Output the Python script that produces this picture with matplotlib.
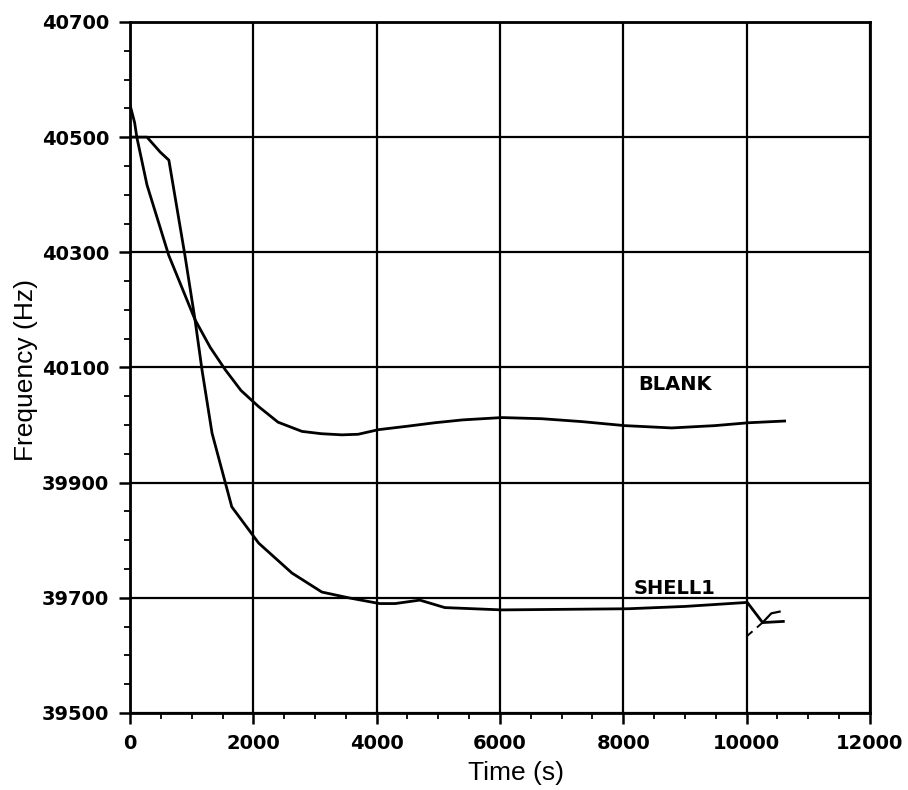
import matplotlib
matplotlib.use("Agg")
import matplotlib.pyplot as plt
from matplotlib.ticker import MultipleLocator

# ---- data ----
blank_t = [0, 75, 110, 275, 627, 1054, 1300, 1545, 1800, 2086, 2400, 2788, 3100,
           3436, 3700, 4030, 4500, 4943, 5400, 6030, 6677, 7325, 8022, 8784,
           9482, 10032, 10616]
blank_f = [40556, 40525, 40500, 40417, 40295, 40183, 40135, 40096, 40060, 40032,
           40005, 39989, 39985, 39983, 39984, 39992, 39998, 40004, 40009, 40013,
           40011, 40006, 39999, 39995, 39999, 40004, 40007]

shell_t = [0, 275, 490, 630, 890, 1054, 1167, 1330, 1650, 2086, 2626, 3111, 3545,
           4047, 4300, 4700, 5105, 6030, 8082, 8995, 10011, 10259, 10595]
shell_f = [40500, 40500, 40474, 40460, 40295, 40183, 40096, 39986, 39858, 39795,
           39743, 39710, 39700, 39690, 39690, 39696, 39683, 39679, 39681, 39685,
           39692, 39657, 39659]

stub_t = [10259, 10400, 10535]
stub_f = [39657, 39673, 39676]

dash_t = [10000, 10259]
dash_f = [39633, 39657]

x_ticks = [0, 2000, 4000, 6000, 8000, 10000, 12000]
y_ticks = [39500, 39700, 39900, 40100, 40300, 40500, 40700]

labels = ["BLANK", "SHELL1"]
label_t = [8250, 8170]
label_f = [40070, 39717]

# ---- figure ----
fig = plt.figure(figsize=(9.08, 7.90), dpi=100)
ax = fig.add_axes([0.1432, 0.0975, 0.9581 - 0.1432, 0.9722 - 0.0975])

lw = 2.0
ax.plot(blank_t, blank_f, color="black", lw=lw, solid_joinstyle="round")
ax.plot(shell_t, shell_f, color="black", lw=lw, solid_joinstyle="round")
ax.plot(stub_t, stub_f, color="black", lw=1.6)
ax.plot(dash_t, dash_f, color="black", lw=1.4, dashes=(4, 3))

ax.set_xlim(0, 12000)
ax.set_ylim(39500, 40700)
ax.set_xticks(x_ticks)
ax.set_yticks(y_ticks)
ax.xaxis.set_minor_locator(MultipleLocator(500))
ax.yaxis.set_minor_locator(MultipleLocator(50))

ax.grid(True, which="major", color="black", lw=1.6)
for s in ax.spines.values():
    s.set_linewidth(2.0)

ax.tick_params(which="major", direction="out", length=8, width=1.8, pad=7,
               labelsize=14)
ax.tick_params(which="minor", direction="out", length=4, width=1.3)
for lab in ax.get_xticklabels() + ax.get_yticklabels():
    lab.set_fontfamily("DejaVu Sans")
    lab.set_fontweight("bold")

ax.set_xlabel("Time (s)", fontsize=19, fontfamily="Liberation Sans")
ax.set_ylabel("Frequency (Hz)", fontsize=19, fontfamily="Liberation Sans")
ax.xaxis.label.set_va("center")
ax.yaxis.label.set_va("center")
ax.xaxis.set_label_coords(0.522, -0.087)
ax.yaxis.set_label_coords(-0.1405, 0.496)

for name, tt, ff in zip(labels, label_t, label_f):
    ax.text(tt, ff, name, fontsize=14, fontweight="bold",
            fontfamily="DejaVu Sans", ha="left", va="center")

fig.savefig("out.png", dpi=100)
